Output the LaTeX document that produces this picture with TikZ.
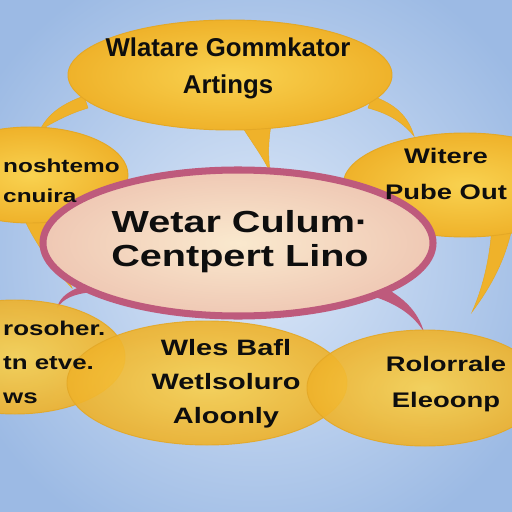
\documentclass[tikz,border=0pt]{standalone}
\usepackage{fontspec}
\setmainfont{Liberation Sans}
\newfontfamily\widefont[FakeStretch=1.3]{Liberation Sans}
\usetikzlibrary{shapes.geometric}

\definecolor{skyin}{HTML}{DCE8F8}
\definecolor{skyout}{HTML}{9CBAE4}
\definecolor{yolkin}{HTML}{F9D250}
\definecolor{yolkout}{HTML}{EFB22A}
\definecolor{yolkline}{HTML}{E4A826}
\definecolor{creamin}{HTML}{FAE9CE}
\definecolor{creamout}{HTML}{EFC8B4}
\definecolor{plum}{HTML}{BE5A7C}
\definecolor{ink}{HTML}{0E0E0E}

\tikzset{
  bubble/.style={ellipse, inner sep=0pt, shading=radial, inner color=yolkin,
    outer color=yolkout, draw=yolkline, line width=0.8pt},
  core/.style={ellipse, inner sep=0pt, shading=radial, inner color=creamin,
    outer color=creamout, draw=plum, line width=6pt},
  tail/.style={fill=yolkout, draw=yolkline, line width=0.4pt},
  horn/.style={fill=plum},
  lbl/.style={text=ink, inner sep=0pt},
}

\begin{document}
\begin{tikzpicture}[x=0.03cm, y=-0.03cm]
	\useasboundingbox (0,0) rectangle (512,512);
	\clip (0,0) rectangle (512,512);
	\shade[inner color=skyin, outer color=skyout] (-60,-60) rectangle (572,572);

	% tail tips
	\coordinate (tipTop) at (270,172);
	\coordinate (tipTL) at (40,130);
	\coordinate (tipTR) at (414,136);
	\coordinate (tipR) at (472,312);
	\coordinate (tipL) at (72,288);
	\coordinate (tipCL) at (57,308);
	\coordinate (tipCR) at (424,332);

	% yellow tails
	\fill[tail] (238,120) .. controls (250,140) and (262,155) .. (tipTop)
		.. controls (268,155) and (268,140) .. (272,120) -- cycle;
	\fill[tail] (84,96) .. controls (62,104) and (48,114) .. (tipTL)
		.. controls (54,122) and (68,114) .. (88,108) -- cycle;
	\fill[tail] (372,96) .. controls (395,104) and (408,116) .. (tipTR)
		.. controls (402,122) and (390,114) .. (368,108) -- cycle;
	\fill[tail] (492,225) .. controls (490,260) and (482,290) .. (tipR)
		.. controls (492,285) and (505,260) .. (512,228) -- cycle;
	\fill[tail] (20,210) .. controls (35,245) and (55,270) .. (tipL)
		.. controls (62,265) and (58,240) .. (58,210) -- cycle;

	% pink tails of the centre
	\fill[horn] (88,284) .. controls (70,290) and (60,296) .. (tipCL)
		.. controls (64,298) and (74,294) .. (92,292) -- cycle;
	\fill[horn] (380,285) .. controls (405,298) and (418,312) .. (tipCR)
		.. controls (414,316) and (398,304) .. (372,296) -- cycle;

	% bubbles
	\node[bubble, minimum width=5.88cm, minimum height=2.88cm] (leftB) at (30,175) {};
	\node[bubble, minimum width=7.32cm, minimum height=3.12cm] (rightB) at (465,185) {};
	\node[bubble, minimum width=9.72cm, minimum height=3.3cm] (topB) at (230,75) {};
	\node[core, minimum width=11.7cm, minimum height=4.38cm] (centB) at (238,243) {};
	\node[bubble, opacity=.9, minimum width=6.6cm, minimum height=3.42cm] (blB) at (15,357) {};
	\node[bubble, opacity=.9, minimum width=8.4cm, minimum height=3.72cm] (bmB) at (207,383) {};
	\node[bubble, opacity=.9, minimum width=7.08cm, minimum height=3.48cm] (brB) at (425,388) {};

	% texts
	\node[lbl, align=center, font=\bfseries\fontsize{22}{31.5}\selectfont] (topT) at (228,68)
		{Wlatare Gommkator\\Artings};
	\node[lbl, align=center, font=\widefont\bfseries\fontsize{26}{29}\selectfont] (centT) at (240,242)
		{Wetar Culum·\\Centpert Lino};
	\node[lbl, align=left, anchor=west, font=\widefont\bfseries\fontsize{16}{26}\selectfont] (leftT) at (3,181)
		{noshtemo\\cnuira};
	\node[lbl, align=center, font=\widefont\bfseries\fontsize{18}{31}\selectfont] (rightT) at (446,174)
		{Witere\\Pube Out};
	\node[lbl, align=left, anchor=west, font=\widefont\bfseries\fontsize{17}{29}\selectfont] (blT) at (3,362)
		{rosoher.\\tn etve.\\ws};
	\node[lbl, align=center, font=\widefont\bfseries\fontsize{19}{29}\selectfont] (bmT) at (226,384)
		{Wles Bafl\\Wetlsoluro\\Aloonly};
	\node[lbl, align=center, font=\widefont\bfseries\fontsize{18}{31}\selectfont] (brT) at (446,384)
		{Rolorrale\\Eleoonp};
\end{tikzpicture}
\end{document}
